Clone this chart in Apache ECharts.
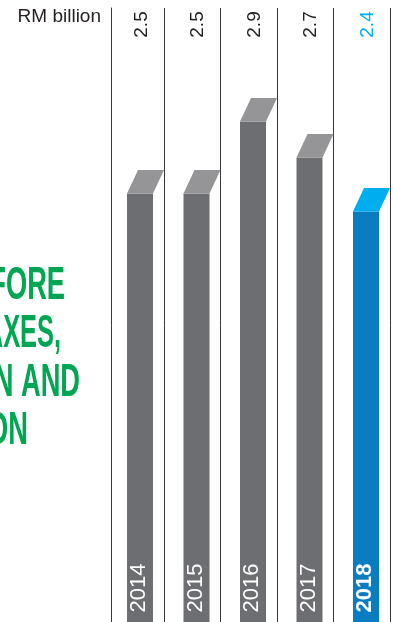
<!DOCTYPE html>
<html>
<head>
<meta charset="utf-8">
<script src="https://cdn.jsdelivr.net/npm/echarts@6/dist/echarts.min.js"></script>
<style>
  html, body { margin: 0; padding: 0; background: #ffffff; overflow: hidden; }
  /* the bars run past the lower edge of the page, so the canvas is taller than the view */
  #chart { width: 393px; height: 644px; }
</style>
</head>
<body>
<div id="chart"></div>
<script>
// EBITDA by year, RM billion
const categories = ['2014', '2015', '2016', '2017', '2018'];
const values = [2.5, 2.5, 2.9, 2.7, 2.4];
const highlightYear = '2018';
const unitLabel = 'RM billion';
const titleLines = ['EARNINGS BEFORE', 'INTEREST, TAXES,', 'DEPRECIATION AND', 'AMORTISATION'];

const GREY_FRONT = '#6D6E71';
const GREY_TOP = '#959597';
const BLUE_FRONT = '#0A7DC2';
const BLUE_TOP = '#00AEEF';
const INK = '#231F20';
const GREEN = '#00A651';
const RULE = '#383838';

const chart = echarts.init(document.getElementById('chart'), null, { renderer: 'canvas' });

// Extruded bar: front face plus a slanted top face, value on top, year inside the bar
function renderItem(params, api) {
  const idx = api.value(0);
  const val = api.value(1);
  const top = api.coord([idx, val]);
  const base = api.coord([idx, 0]);
  const band = api.size([1, 0])[0];
  const bandStart = top[0] - band / 2;
  const barW = 26;
  const left = bandStart + 19.5;
  const depthX = 11;
  const depthY = 23.4;
  const isHi = categories[idx] === highlightYear;
  const cx = left + barW / 2;
  const cs = params.coordSys;

  return {
    type: 'group',
    children: [
      {
        type: 'rect',
        shape: { x: left, y: top[1], width: barW, height: base[1] - top[1] },
        style: { fill: isHi ? BLUE_FRONT : GREY_FRONT }
      },
      {
        type: 'polygon',
        shape: {
          points: [
            [left, top[1]],
            [left + barW, top[1]],
            [left + barW + depthX, top[1] - depthY],
            [left + depthX, top[1] - depthY]
          ]
        },
        style: { fill: isHi ? BLUE_TOP : GREY_TOP }
      },
      {
        type: 'text',
        x: cx + 1.7,
        y: cs.y + 16.5,
        rotation: Math.PI / 2,
        style: {
          text: val.toFixed(1),
          fill: isHi ? BLUE_TOP : INK,
          font: '19px "Liberation Sans", Arial, sans-serif',
          align: 'center',
          verticalAlign: 'middle'
        }
      },
      {
        type: 'text',
        x: cx - 1,
        y: base[1] - 55.7,
        rotation: Math.PI / 2,
        style: {
          text: categories[idx],
          fill: '#ffffff',
          font: (isHi ? 'bold ' : '') + '22px "Liberation Sans", Arial, sans-serif',
          align: 'center',
          verticalAlign: 'middle'
        }
      }
    ]
  };
}

// condensed headline, each line anchored at its right end
const titleRightEdges = [65, 61, 80, 28];
const titleScaleX = [0.58, 0.54, 0.58, 0.58];
const titleGraphics = titleLines.map((line, i) => ({
  type: 'text',
  x: titleRightEdges[i],
  y: 286 + i * 48.3,
  scaleX: titleScaleX[i],
  style: {
    text: line,
    fill: GREEN,
    font: 'bold 47px "Liberation Sans Narrow", "Liberation Sans", sans-serif',
    align: 'right',
    verticalAlign: 'middle'
  }
}));

const option = {
  backgroundColor: '#ffffff',
  animation: false,
  grid: { left: 107.5, right: 3, top: 8, bottom: 0.3 },
  xAxis: {
    type: 'category',
    data: categories,
    boundaryGap: true,
    axisLine: { show: false },
    axisTick: { show: false },
    axisLabel: { show: false },
    splitLine: {
      show: true,
      interval: (index) => index !== 0,
      lineStyle: { color: RULE, width: 1 }
    }
  },
  yAxis: {
    type: 'value',
    min: 0,
    max: 3.53,
    offset: -3.5,
    axisLine: { show: true, lineStyle: { color: RULE, width: 1 } },
    axisTick: { show: false },
    axisLabel: { show: false },
    splitLine: { show: false }
  },
  graphic: [
    {
      type: 'text',
      x: 101,
      y: 17,
      style: {
        text: unitLabel,
        fill: INK,
        font: '19px "Liberation Sans", Arial, sans-serif',
        align: 'right',
        verticalAlign: 'middle'
      }
    }
  ].concat(titleGraphics),
  series: [
    {
      type: 'custom',
      renderItem: renderItem,
      data: values.map((v, i) => [i, v]),
      clip: false
    }
  ]
};

chart.setOption(option);
</script>
</body>
</html>
